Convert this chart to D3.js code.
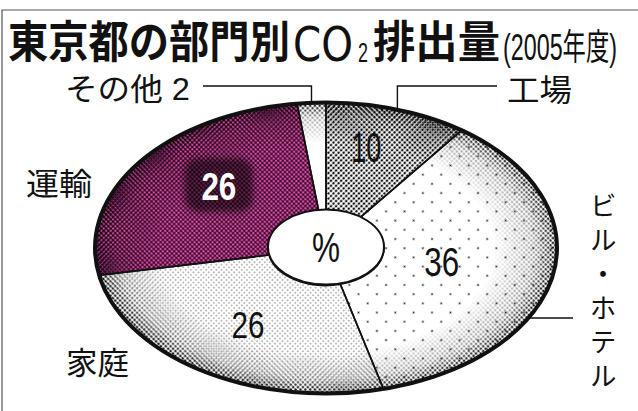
<!DOCTYPE html>
<html>
<head>
<meta charset="utf-8">
<script src="https://cdn.jsdelivr.net/npm/d3@7"></script>
<style>
  body { margin: 0; background: #fff; }
  svg { display: block; }
</style>
</head>
<body>
<div id="chart"></div>
<script>
const categories = ["工場", "ビル・ホテル", "家庭", "運輸", "その他"]
const values = [10, 36, 26, 26, 2]
const title = "東京都の部門別CO2排出量"
const subtitle = "(2005年度)"
const unitLabel = "%"

const W = 638, H = 411
const cx = 326, cy = 248, RX = 231, RY = 145.5
const HX = 58, HY = 37.5

const svg = d3.select("#chart").append("svg")
  .attr("width", W).attr("height", H)

svg.append("rect").attr("width", W).attr("height", H).attr("fill", "#fff")

const defs = svg.append("defs")

// halftone patterns
function dotPattern(id, size, r, bg, fg, rot) {
  const p = defs.append("pattern")
    .attr("id", id)
    .attr("patternUnits", "userSpaceOnUse")
    .attr("width", size).attr("height", size)
    .attr("patternTransform", "rotate(" + rot + ")")
  p.append("rect").attr("width", size).attr("height", size).attr("fill", bg)
  p.append("circle").attr("cx", size / 2).attr("cy", size / 2).attr("r", r).attr("fill", fg)
}
dotPattern("pInd", 3.6, 1.25, "#fff", "#111", 45)
dotPattern("pBldg", 13, 1.0, "#fff", "#222", 45)
dotPattern("pHome", 3.6, 0.6, "#fff", "#444", 45)
dotPattern("pTrans", 3.2, 1.3, "#2b0a22", "#e04aa8", 45)
dotPattern("pOther", 40, 0, "#fff", "#fff", 0)
dotPattern("pRim", 3.4, 1.35, "rgba(0,0,0,0)", "#000", 45)
dotPattern("pPatch", 3.2, 1.4, "rgba(0,0,0,0)", "#000", 45)

const fills = ["url(#pInd)", "url(#pBldg)", "url(#pHome)", "url(#pTrans)", "url(#pOther)"]

const rg = defs.append("radialGradient").attr("id", "rimGrad")
rg.append("stop").attr("offset", "0").attr("stop-color", "#000")
rg.append("stop").attr("offset", "0.72").attr("stop-color", "#000")
rg.append("stop").attr("offset", "0.9").attr("stop-color", "#5a5a5a")
rg.append("stop").attr("offset", "1").attr("stop-color", "#fff")

defs.append("mask").attr("id", "rimMask")
  .append("ellipse")
  .attr("cx", cx).attr("cy", cy).attr("rx", RX).attr("ry", RY)
  .attr("fill", "url(#rimGrad)")

defs.append("filter").attr("id", "soft")
  .append("feGaussianBlur").attr("stdDeviation", 3)

// squeeze a text into a given width (the clipping uses condensed type)
function fit(sel, x, y, width) {
  const n = sel.node().getComputedTextLength()
  sel.attr("x", 0).attr("y", 0)
    .attr("transform", "translate(" + x + "," + y + ") scale(" + (width / n) + ",1)")
  return sel
}

// frame
svg.append("path")
  .attr("d", "M" + W + ",10H2V" + H)
  .attr("fill", "none").attr("stroke", "#555").attr("stroke-width", 1.2)

// latin font first keeps the line boxes tight, kana/kanji fall back to Noto CJK
const tfont = "'Liberation Sans', 'Noto Sans CJK JP', sans-serif"
const tg = svg.append("g").attr("font-family", tfont).attr("fill", "#111")
const titleParts = [
  { t: title.slice(0, 7), x: 8, len: 282, size: 44, y: 58, w: 700, f: tfont },
  { t: title.slice(7, 9), x: 293, len: 60, size: 48, y: 61, w: 400, f: "'DejaVu Sans', sans-serif" },
  { t: title.slice(9, 10), x: 358, len: 10, size: 27, y: 62, w: 400, f: "'Liberation Sans', sans-serif" },
  { t: title.slice(10), x: 373, len: 127, size: 44, y: 58, w: 700, f: tfont },
  { t: subtitle, x: 503, len: 114, size: 36, y: 60, w: 400, f: tfont }
]
titleParts.forEach(d => {
  const t = tg.append("text")
    .attr("font-size", d.size).attr("font-weight", d.w)
    .attr("font-family", d.f)
    .text(d.t)
  fit(t, d.x, d.y, d.len)
})

// pie, squashed into an ellipse
const pie = d3.pie().sort(null).value(d => d)
const arcs = pie(values)

function ept(a, rx, ry) {
  return [cx + rx * Math.sin(a), cy - ry * Math.cos(a)]
}
function slicePath(d) {
  const large = d.endAngle - d.startAngle > Math.PI ? 1 : 0
  const p0 = ept(d.startAngle, RX, RY), p1 = ept(d.endAngle, RX, RY)
  const p2 = ept(d.endAngle, HX, HY), p3 = ept(d.startAngle, HX, HY)
  return "M" + p0 + "A" + RX + "," + RY + " 0 " + large + " 1 " + p1 +
    "L" + p2 + "A" + HX + "," + HY + " 0 " + large + " 0 " + p3 + "Z"
}

const pieG = svg.append("g")
pieG.selectAll("path.slice").data(arcs).join("path")
  .attr("class", "slice")
  .attr("d", slicePath)
  .attr("fill", (d, i) => fills[i])

// darker screen towards the rim
pieG.append("ellipse")
  .attr("cx", cx).attr("cy", cy).attr("rx", RX).attr("ry", RY)
  .attr("fill", "url(#pRim)").attr("mask", "url(#rimMask)")

// label placement: angle (deg) and radial fraction inside each slice
const lab = [
  { a: 14, t: 0.72, size: 43, len: 30, w: 400, col: "#111" },
  { a: 100.8, t: 0.51, size: 40, len: 35, w: 400, col: "#111" },
  { a: 212.4, t: 0.63, size: 36, len: 33, w: 400, col: "#111" },
  { a: 312.6, t: 0.63, size: 39, len: 35, w: 700, col: "#fff" }
]

// dark patch behind the white figure of 運輸
const tp = ept(lab[3].a * Math.PI / 180, RX * lab[3].t, RY * lab[3].t)
pieG.append("rect")
  .attr("x", tp[0] - 34).attr("y", tp[1] - 28)
  .attr("width", 68).attr("height", 54).attr("rx", 14)
  .attr("fill", "url(#pPatch)").attr("filter", "url(#soft)")

// dividers and outline
pieG.selectAll("path.edge").data(arcs).join("path")
  .attr("class", "edge")
  .attr("d", slicePath)
  .attr("fill", "none").attr("stroke", "#111").attr("stroke-width", 1.6)

pieG.append("ellipse")
  .attr("cx", cx).attr("cy", cy).attr("rx", RX).attr("ry", RY)
  .attr("fill", "none").attr("stroke", "#111").attr("stroke-width", 4)

pieG.append("ellipse")
  .attr("cx", cx).attr("cy", cy - 1).attr("rx", HX).attr("ry", HY)
  .attr("fill", "#fff").attr("stroke", "#111").attr("stroke-width", 2)

// values inside slices
const nfont = "'Liberation Sans', Arial, sans-serif"
arcs.slice(0, 4).forEach((d, i) => {
  const L = lab[i]
  const p = ept(L.a * Math.PI / 180, RX * L.t, RY * L.t)
  const t = pieG.append("text")
    .attr("font-family", nfont)
    .attr("font-size", L.size).attr("font-weight", L.w)
    .attr("fill", L.col)
    .attr("dy", "0.36em")
    .text(d.data)
  fit(t, p[0] - L.len / 2, p[1], L.len)
})

fit(pieG.append("text")
  .attr("font-family", nfont).attr("font-size", 42)
  .attr("fill", "#111")
  .text(unitLabel), cx - 14, cy + 14, 28)

// outside labels with leader lines
const lf = svg.append("g").attr("font-family", tfont).attr("font-size", 31).attr("fill", "#111")
const line = d3.line()
const lineG = svg.append("g").attr("fill", "none").attr("stroke", "#111").attr("stroke-width", 1.4)

// その他
const aOther = (arcs[4].startAngle + arcs[4].endAngle) / 2
const pO = ept(aOther, RX, RY)
lineG.append("path").attr("d", line([[203, 86], [pO[0], 86], [pO[0], pO[1] + 1]]))
fit(lf.append("text").text(categories[4] + " " + values[4]), 65, 100, 125)

// 工場
const aInd = (arcs[0].startAngle + arcs[0].endAngle) / 2
const pI = ept(aInd, RX, RY)
lineG.append("path").attr("d", line([[pI[0], pI[1] + 1], [pI[0], 86], [497, 86]]))
fit(lf.append("text").text(categories[0]), 507, 101, 65)

// ビル・ホテル, set vertically
const yB = 318
const xB = cx + RX * Math.sqrt(1 - Math.pow((yB - cy) / RY, 2))
lineG.append("path").attr("d", line([[xB - 2, yB], [573, yB]]))
lf.append("text")
  .attr("x", 603).attr("y", 192)
  .attr("font-family", "'Noto Sans CJK JP', sans-serif")
  .style("writing-mode", "vertical-rl")
  .style("letter-spacing", "7px")
  .attr("font-size", 27)
  .text(categories[1])

// 運輸, 家庭
fit(lf.append("text").text(categories[3]), 26, 195, 66)
fit(lf.append("text").text(categories[2]), 66, 374, 63)
</script>
</body>
</html>
